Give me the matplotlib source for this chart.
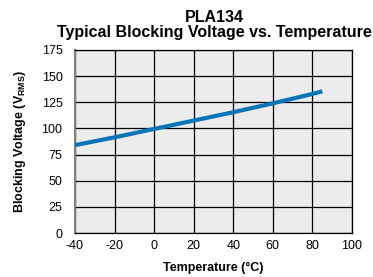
import matplotlib
matplotlib.use("Agg")
import matplotlib.pyplot as plt

temperature = [-40, -20, 0, 20, 40, 60, 80, 85]
voltage = [84, 91.5, 99.5, 107.5, 115.5, 124, 133, 135.5]
x_ticks = [-40, -20, 0, 20, 40, 60, 80, 100]
y_ticks = [0, 25, 50, 75, 100, 125, 150, 175]

plt.rcParams['font.family'] = ['Liberation Sans', 'DejaVu Sans']
plt.rcParams['mathtext.fontset'] = 'custom'
plt.rcParams['mathtext.rm'] = 'Liberation Sans:bold'
plt.rcParams['mathtext.bf'] = 'Liberation Sans:bold'
plt.rcParams['axes.unicode_minus'] = False

fig = plt.figure(figsize=(3.73, 2.77), dpi=100)
ax = fig.add_axes([75/373, 1-233/277, (352-75)/373, (233-50)/277])
ax.set_facecolor('#ececec')
ax.plot(temperature, voltage, color='#0a74b8', lw=3, solid_capstyle='butt', zorder=3)
ax.set_xlim(-40, 100)
ax.set_ylim(0, 175)
ax.set_xticks(x_ticks)
ax.set_yticks(y_ticks)
ax.grid(True, color='black', lw=0.9, zorder=1)
ax.set_axisbelow(True)
for s in ['top', 'right', 'bottom']:
    ax.spines[s].set_color('black')
    ax.spines[s].set_linewidth(0.9)
ax.spines['left'].set_color('#808080')
ax.spines['left'].set_linewidth(1.5)
ax.tick_params(length=0, labelsize=9)
ax.tick_params(axis='y', pad=9)
ax.tick_params(axis='x', pad=5)
ax.set_xlabel('Temperature (°C)', fontsize=9, fontweight='bold', labelpad=7)
ax.set_ylabel(r'Blocking Voltage (V$_{\mathrm{RMS}}$)', fontsize=9, fontweight='bold', labelpad=10)
fig.text(0.575, 1-17/277, 'PLA134', ha='center', va='center', fontsize=11.5, fontweight='bold')
fig.text(0.575, 1-33/277, 'Typical Blocking Voltage vs. Temperature', ha='center', va='center', fontsize=11.5, fontweight='bold')
fig.savefig('out.png', dpi=100)
